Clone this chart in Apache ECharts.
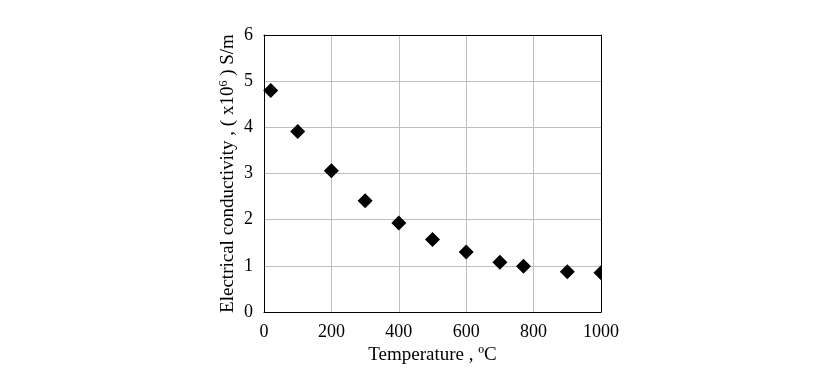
<!DOCTYPE html>
<html><head><meta charset="utf-8">
<script src="https://cdn.jsdelivr.net/npm/echarts@6/dist/echarts.min.js"></script>
<style>html,body{margin:0;padding:0;background:#fff}#c{width:838px;height:392px}</style>
</head><body><div id="c"></div>
<script>
const temperature = [20, 100, 200, 300, 400, 500, 600, 700, 770, 900, 1000];
const conductivity = [4.80, 3.91, 3.06, 2.41, 1.93, 1.57, 1.30, 1.08, 0.99, 0.87, 0.85];
const xTicks = [0, 200, 400, 600, 800, 1000];
const yTicks = [0, 1, 2, 3, 4, 5, 6];

const font = '"Liberation Serif", "Times New Roman", serif';
const chart = echarts.init(document.getElementById('c'), null, {renderer: 'canvas'});
const plainAxis = {
  axisLine: {show: true, onZero: false, lineStyle: {color: '#000', width: 1}},
  axisTick: {show: false}, axisLabel: {show: false}, splitLine: {show: false}, z: 10
};
chart.setOption({
  animation: false,
  backgroundColor: '#fff',
  grid: {left: 264, right: 237, top: 35, bottom: 80},
  xAxis: [{
    type: 'value', min: xTicks[0], max: xTicks[xTicks.length - 1], interval: 200,
    name: 'Temperature , ºC', nameLocation: 'middle', nameGap: 31,
    nameTextStyle: {fontFamily: font, fontSize: 19, color: '#000'},
    axisLine: {show: true, onZero: false, lineStyle: {color: '#000', width: 1}},
    axisTick: {show: false},
    axisLabel: {fontFamily: font, fontSize: 18, color: '#000', margin: 11, formatter: v => String(v)},
    splitLine: {show: true, lineStyle: {color: '#bfbfbf', width: 1}},
    z: 1
  }, Object.assign({type: 'value', position: 'top', min: xTicks[0], max: xTicks[xTicks.length - 1]}, plainAxis)],
  yAxis: [{
    type: 'value', min: yTicks[0], max: yTicks[yTicks.length - 1], interval: 1,
    name: '{a|Electrical conductivity , ( x10}{s|6}{a| ) S/m}', nameLocation: 'middle', nameGap: 25,
    nameTextStyle: {fontFamily: font, fontSize: 19, color: '#000',
      rich: {a: {fontFamily: font, fontSize: 19, color: '#000'},
             s: {fontFamily: font, fontSize: 12, color: '#000', verticalAlign: 'top', padding: [0, 0, 9, 0]}}},
    axisLine: {show: true, onZero: false, lineStyle: {color: '#000', width: 1}},
    axisTick: {show: false},
    axisLabel: {fontFamily: font, fontSize: 18, color: '#000', margin: 11},
    splitLine: {show: true, lineStyle: {color: '#bfbfbf', width: 1}},
    z: 1
  }, Object.assign({type: 'value', position: 'right', min: yTicks[0], max: yTicks[yTicks.length - 1]}, plainAxis)],
  series: [{
    type: 'scatter',
    data: temperature.map((t, i) => [t, conductivity[i]]),
    symbol: 'diamond', symbolSize: 15,
    itemStyle: {color: '#000', opacity: 1},
    clip: false, z: 2
  }]
});
// mask outside the plot's right edge so the last marker is cut like in the reference
const topRight = chart.convertToPixel({xAxisIndex: 0, yAxisIndex: 0}, [xTicks[xTicks.length - 1], yTicks[yTicks.length - 1]]);
const bottomRight = chart.convertToPixel({xAxisIndex: 0, yAxisIndex: 0}, [xTicks[xTicks.length - 1], yTicks[0]]);
chart.setOption({graphic: [{type: 'rect', z: 3, silent: true,
  shape: {x: topRight[0] + 1, y: topRight[1], width: 20, height: bottomRight[1] - topRight[1]},
  style: {fill: '#fff'}}]});
</script></body></html>
